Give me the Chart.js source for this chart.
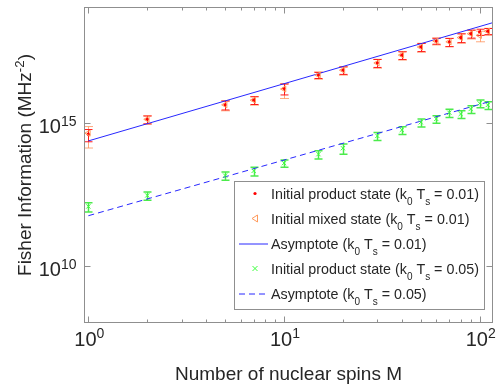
<!DOCTYPE html>
<html lang="en">
  <head>
    <meta charset="utf-8" />
    <script src="https://cdn.jsdelivr.net/npm/chart.js"></script>
    <style>
      body {
        margin: 0;
        background: #fff;
      }
    </style>
    <title>Fisher Information vs nuclear spins</title>
  </head>

  <body>
    <canvas id="myChart" width="498" height="384"></canvas>

    <script>
      // number of nuclear spins M
      const spins = [1, 2, 5, 7, 10, 15, 20, 30, 40, 50, 60, 70, 80, 90, 100, 110];

      // initial product state, k0 Ts = 0.01
      const product01 = [3.95e14, 1.31e15, 4.24e15, 6.18e15, 1.58e16, 4.59e16, 6.86e16, 1.23e17, 2.29e17, 4.45e17, 7.2e17, 6.64e17, 9.46e17, 1.3e18, 1.48e18, 1.57e18];
      const productErr01 = [1.8e14, 0.4e15, 1.46e15, 1.87e15, 0.65e16, 1.1e16, 2.0e16, 0.38e17, 0.69e17, 1.4e17, 1.7e17, 2.1e17, 3.2e17, 0.4e18, 0.36e18, 0.38e18];

      // initial mixed state, k0 Ts = 0.01
      const mixed01 = [4.3e14, 1.31e15, 4.2e15, 6.1e15, 1.5e16, 4.6e16, 6.8e16, 1.22e17, 2.3e17, 4.4e17, 7.1e17, 6.7e17, 9.4e17, 1.28e18, 1.12e18, 1.56e18];
      const mixedErr01 = [3.0e14, 0.42e15, 1.6e15, 2.0e15, 0.8e16, 1.3e16, 2.2e16, 0.42e17, 0.75e17, 1.5e17, 1.9e17, 2.2e17, 3.4e17, 0.44e18, 0.45e18, 0.42e18];

      // initial product state, k0 Ts = 0.05
      const product05 = [1.18e12, 2.86e12, 1.42e13, 2.07e13, 3.85e13, 7.92e13, 1.28e14, 3.44e14, 5.57e14, 1.03e15, 1.35e15, 2.23e15, 2.01e15, 3.0e15, 4.74e15, 4.14e15];
      const productErr05 = [0.42e12, 0.9e12, 0.45e13, 0.7e13, 1.1e13, 2.5e13, 0.5e14, 1.05e14, 1.7e14, 0.32e15, 0.4e15, 0.7e15, 0.61e15, 0.9e15, 1.44e15, 1.26e15];

      // asymptotes (end points)
      const asymM = [1, 120];
      const asym01 = [2.3e14, 3.3e18];
      const asym05 = [5.6e11, 6.2e15];

      // ticks
      const xTicks = [1, 10, 100];
      const xTickExp = ["0", "1", "2"];
      const xMinorTicks = [2, 3, 4, 5, 6, 7, 8, 9, 20, 30, 40, 50, 60, 70, 80, 90];
      const yTicks = [1e10, 1e15];
      const yTickExp = ["10", "15"];

      const legendRows = [
        ["Initial product state (k", "0", " T", "s", " = 0.01)"],
        ["Initial mixed state (k", "0", " T", "s", " = 0.01)"],
        ["Asymptote (k", "0", " T", "s", " = 0.01)"],
        ["Initial product state (k", "0", " T", "s", " = 0.05)"],
        ["Asymptote (k", "0", " T", "s", " = 0.05)"],
      ];

      const FONT = "'Liberation Sans', Arial, sans-serif";
      const TEXT = "#262626";
      const AXIS = "#8f8f8f";

      function toPoints(xs, ys) {
        return xs.map((x, i) => ({ x: x, y: ys[i] }));
      }

      // text with sub/superscript parts: [text, kind] kind = "n" | "sup" | "sub"
      function richWidth(ctx, parts, size) {
        let w = 0;
        for (const [t, kind] of parts) {
          const s = kind === "n" ? size : size * 0.7;
          ctx.font = s + "px " + FONT;
          w += ctx.measureText(t).width;
        }
        return w;
      }

      function drawRich(ctx, parts, x, y, size, align) {
        const w = richWidth(ctx, parts, size);
        let cx = x;
        if (align === "center") cx = x - w / 2;
        if (align === "right") cx = x - w;
        ctx.textBaseline = "alphabetic";
        ctx.textAlign = "left";
        for (const [t, kind] of parts) {
          let s = size;
          let dy = 0;
          if (kind === "sup") {
            s = size * 0.7;
            dy = -size * 0.38;
          } else if (kind === "sub") {
            s = size * 0.7;
            dy = size * 0.45;
          }
          ctx.font = s + "px " + FONT;
          ctx.fillText(t, cx, y + dy);
          cx += ctx.measureText(t).width;
        }
      }

      // error bars under the markers
      const errorBars = {
        id: "errorBars",
        beforeDatasetsDraw(chart) {
          const ctx = chart.ctx;
          const xs = chart.scales.x;
          const ys = chart.scales.y;
          const area = chart.chartArea;
          ctx.save();
          ctx.beginPath();
          ctx.rect(area.left, area.top, area.width, area.height);
          ctx.clip();
          chart.data.datasets.forEach((ds) => {
            if (!ds.errors) return;
            ctx.strokeStyle = ds.errorColor;
            ctx.lineWidth = ds.errorWidth;
            ds.data.forEach((p, i) => {
              const px = Math.round(xs.getPixelForValue(p.x)) + 0.5;
              const top = ys.getPixelForValue(p.y + ds.errors[i]);
              const bot = ys.getPixelForValue(Math.max(p.y - ds.errors[i], 1));
              const w = ds.capWidth / 2;
              ctx.beginPath();
              ctx.moveTo(px, top);
              ctx.lineTo(px, bot);
              ctx.moveTo(px - w, top);
              ctx.lineTo(px + w, top);
              ctx.moveTo(px - w, bot);
              ctx.lineTo(px + w, bot);
              ctx.stroke();
            });
          });
          ctx.restore();
        },
      };

      // axes box, ticks, labels and legend
      const frame = {
        id: "frame",
        afterDraw(chart) {
          const ctx = chart.ctx;
          const xs = chart.scales.x;
          const ys = chart.scales.y;
          const a = chart.chartArea;
          const L = Math.round(a.left) + 0.5;
          const R = Math.round(a.right) - 0.5;
          const T = Math.round(a.top) + 0.5;
          const B = Math.round(a.bottom) - 0.5;
          ctx.save();

          ctx.strokeStyle = AXIS;
          ctx.lineWidth = 1;
          ctx.strokeRect(L, T, R - L, B - T);

          // x ticks (inside, top and bottom)
          ctx.beginPath();
          xTicks.forEach((v) => {
            const px = Math.round(xs.getPixelForValue(v)) + 0.5;
            ctx.moveTo(px, B);
            ctx.lineTo(px, B - 6);
            ctx.moveTo(px, T);
            ctx.lineTo(px, T + 6);
          });
          xMinorTicks.forEach((v) => {
            const px = Math.round(xs.getPixelForValue(v)) + 0.5;
            ctx.moveTo(px, B);
            ctx.lineTo(px, B - 3);
            ctx.moveTo(px, T);
            ctx.lineTo(px, T + 3);
          });
          yTicks.forEach((v) => {
            const py = Math.round(ys.getPixelForValue(v)) + 0.5;
            ctx.moveTo(L, py);
            ctx.lineTo(L + 6, py);
            ctx.moveTo(R, py);
            ctx.lineTo(R - 6, py);
          });
          ctx.stroke();

          // tick labels
          ctx.fillStyle = TEXT;
          xTicks.forEach((v, i) => {
            const px = xs.getPixelForValue(v);
            drawRich(ctx, [["10", "n"], [xTickExp[i], "sup"]], px + 1, B + 23, 20, "center");
          });
          yTicks.forEach((v, i) => {
            const py = ys.getPixelForValue(v);
            drawRich(ctx, [["10", "n"], [yTickExp[i], "sup"]], L - 8, py + 10.5, 20, "right");
          });

          // axis titles
          drawRich(ctx, [["Number of nuclear spins M", "n"]], (a.left + a.right) / 2, 380, 19, "center");
          ctx.save();
          ctx.translate(31, (a.top + a.bottom) / 2);
          ctx.rotate(-Math.PI / 2);
          drawRich(ctx, [["Fisher Information (MHz", "n"], ["-2", "sup"], [")", "n"]], 0, 0, 19, "center");
          ctx.restore();

          // legend
          ctx.fillStyle = "#fff";
          ctx.fillRect(234.5, 181.5, 250, 128);
          ctx.strokeStyle = AXIS;
          ctx.strokeRect(234.5, 181.5, 250, 128);
          legendRows.forEach((row, i) => {
            const cy = 193.5 + i * 25;
            const mx = 255;
            ctx.save();
            if (i === 0) {
              ctx.fillStyle = "#ff0000";
              ctx.beginPath();
              ctx.arc(mx, cy, 1.6, 0, Math.PI * 2);
              ctx.fill();
            } else if (i === 1) {
              ctx.strokeStyle = "#ff9a5c";
              ctx.beginPath();
              ctx.moveTo(mx - 3, cy);
              ctx.lineTo(mx + 2.5, cy - 3.5);
              ctx.lineTo(mx + 2.5, cy + 3.5);
              ctx.closePath();
              ctx.stroke();
            } else if (i === 2 || i === 4) {
              ctx.strokeStyle = "rgb(40,40,255)";
              if (i === 4) ctx.setLineDash([6, 4]);
              ctx.beginPath();
              ctx.moveTo(239, cy + 0.5);
              ctx.lineTo(268, cy + 0.5);
              ctx.stroke();
            } else {
              ctx.strokeStyle = "#3cff3c";
              ctx.beginPath();
              ctx.moveTo(mx - 2.5, cy - 2.5);
              ctx.lineTo(mx + 2.5, cy + 2.5);
              ctx.moveTo(mx - 2.5, cy + 2.5);
              ctx.lineTo(mx + 2.5, cy - 2.5);
              ctx.stroke();
            }
            ctx.restore();
            ctx.fillStyle = TEXT;
            const parts = [
              [row[0], "n"],
              [row[1], "sub"],
              [row[2], "n"],
              [row[3], "sub"],
              [row[4], "n"],
            ];
            drawRich(ctx, parts, 271, cy + 5, 14.3, "left");
          });

          ctx.restore();
        },
      };

      const ctx = document.getElementById("myChart");
      new Chart(ctx, {
        type: "scatter",
        plugins: [errorBars, frame],
        data: {
          datasets: [
            {
              label: "Initial mixed state (k0 Ts = 0.01)",
              data: toPoints(spins, mixed01),
              errors: mixedErr01,
              errorColor: "rgba(255,140,80,0.75)",
              errorWidth: 1,
              capWidth: 9,
              pointStyle: "triangle",
              rotation: -90,
              radius: 3.5,
              backgroundColor: "rgba(0,0,0,0)",
              borderColor: "#ff9a5c",
              borderWidth: 1,
            },
            {
              label: "Initial product state (k0 Ts = 0.01)",
              data: toPoints(spins, product01),
              errors: productErr01,
              errorColor: "#ff1a1a",
              errorWidth: 1,
              capWidth: 8,
              pointStyle: "circle",
              radius: 1.7,
              backgroundColor: "#ff0000",
              borderColor: "#ff0000",
              borderWidth: 0,
            },
            {
              label: "Asymptote (k0 Ts = 0.01)",
              data: toPoints(asymM, asym01),
              showLine: true,
              radius: 0,
              borderColor: "rgb(40,40,255)",
              borderWidth: 1,
            },
            {
              label: "Initial product state (k0 Ts = 0.05)",
              data: toPoints(spins, product05),
              errors: productErr05,
              errorColor: "rgba(30,230,30,0.8)",
              errorWidth: 1.5,
              capWidth: 8,
              pointStyle: "crossRot",
              radius: 3,
              backgroundColor: "#3cff3c",
              borderColor: "#3cff3c",
              borderWidth: 1,
            },
            {
              label: "Asymptote (k0 Ts = 0.05)",
              data: toPoints(asymM, asym05),
              showLine: true,
              radius: 0,
              borderColor: "rgb(40,40,255)",
              borderWidth: 1,
              borderDash: [6, 4],
            },
          ],
        },
        options: {
          responsive: false,
          animation: false,
          layout: {
            padding: { left: 84, right: 3, top: 7, bottom: 61 },
          },
          plugins: {
            legend: { display: false },
            tooltip: { enabled: false },
          },
          scales: {
            x: {
              type: "logarithmic",
              min: 0.95,
              max: 117,
              display: false,
            },
            y: {
              type: "logarithmic",
              min: 1e8,
              max: 1.1e19,
              display: false,
            },
          },
        },
      });
    </script>
  </body>
</html>
